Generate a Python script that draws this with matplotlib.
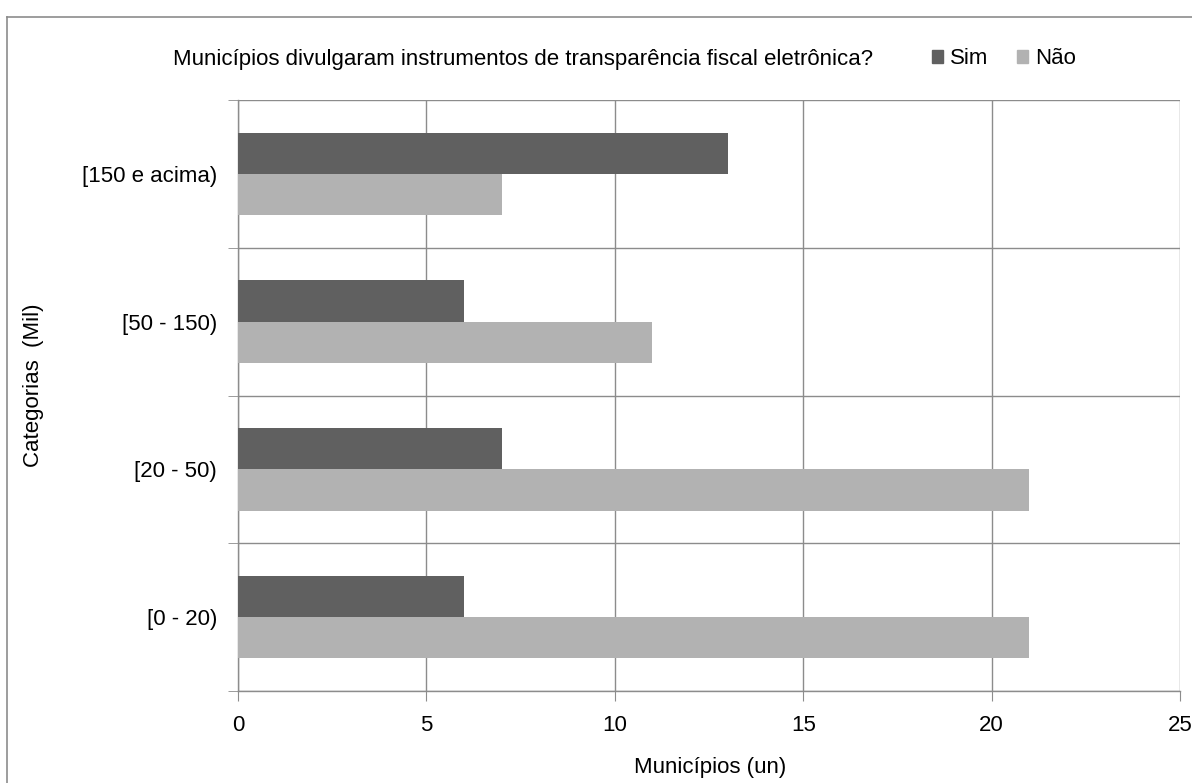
import matplotlib
matplotlib.use("Agg")
import matplotlib.pyplot as plt
import numpy as np
from matplotlib.lines import Line2D
from matplotlib.patches import Patch

plt.rcParams['font.family'] = ['Liberation Sans', 'DejaVu Sans']

categories = ["[0 - 20)", "[20 - 50)", "[50 - 150)", "[150 e acima)"]
sim = [6, 7, 6, 13]
nao = [21, 21, 11, 7]
series_names = ["Sim", "Não"]
colors = ["#606060", "#b2b2b2"]
xticks = [0, 5, 10, 15, 20, 25]

FS = 16
W, H = 1192, 783
fig = plt.figure(figsize=(W / 100, H / 100), dpi=100)
ax = fig.add_axes([238 / W, 1 - 691 / H, (1180 - 238) / W, (691 - 100) / H])

y = np.arange(len(categories))
bh = 0.28
ax.barh(y + bh / 2, sim, height=bh, color=colors[0], zorder=3)
ax.barh(y - bh / 2, nao, height=bh, color=colors[1], zorder=3)

ax.set_xlim(0, 25)
ax.set_ylim(-0.5, len(categories) - 0.5)
ax.set_xticks(xticks)
ax.set_xticklabels([str(v) for v in xticks], fontsize=FS)
ax.set_yticks(y)
ax.set_yticklabels(categories, fontsize=FS)
ax.set_yticks(np.arange(-0.5, len(categories)), minor=True)

grid_c = "#8c8c8c"
ax.grid(axis='x', which='major', color=grid_c, linewidth=1.0, zorder=0)
ax.grid(axis='y', which='minor', color=grid_c, linewidth=1.0, zorder=0)
ax.grid(axis='y', which='major', visible=False)

for s in ['top', 'right']:
    ax.spines[s].set_visible(False)
for s in ['left', 'bottom']:
    ax.spines[s].set_color(grid_c)
    ax.spines[s].set_linewidth(1.0)

ax.tick_params(axis='y', which='major', length=0, pad=15)
ax.tick_params(axis='y', which='minor', length=7, color=grid_c, direction='out')
ax.tick_params(axis='x', which='major', length=7, color=grid_c, direction='out', pad=10)

ax.set_xlabel("Municípios (un)", fontsize=FS)
ax.xaxis.label.set_va('center')
ax.xaxis.set_label_coords((710 - 238) / 942, (691 - 767) / 591)
ax.set_ylabel("Categorias  (Mil)", fontsize=FS)
ax.yaxis.label.set_va('center')
ax.yaxis.set_label_coords((34 - 238) / 942, (691 - 385) / 591)

fig.text(173 / W, 1 - 59 / H, "Municípios divulgaram instrumentos de transparência fiscal eletrônica?",
         fontsize=FS, ha='left', va='center')

handles = [Patch(color=c) for c in colors]
fig.legend(handles, series_names, loc='center left', bbox_to_anchor=(932 / W, 1 - 59 / H),
           ncol=2, frameon=False, fontsize=FS, handlelength=0.5, handleheight=0.5,
           handletextpad=0.3, columnspacing=1.3, borderpad=0, borderaxespad=0)

# outer chart border
fig.add_artist(Line2D([7 / W, 7 / W], [0, 1 - 17 / H], transform=fig.transFigure, color="#8c8c8c", lw=1.2))
fig.add_artist(Line2D([7 / W, 1], [1 - 17 / H, 1 - 17 / H], transform=fig.transFigure, color="#8c8c8c", lw=1.2))

fig.savefig("out.png", dpi=100, facecolor="white")
